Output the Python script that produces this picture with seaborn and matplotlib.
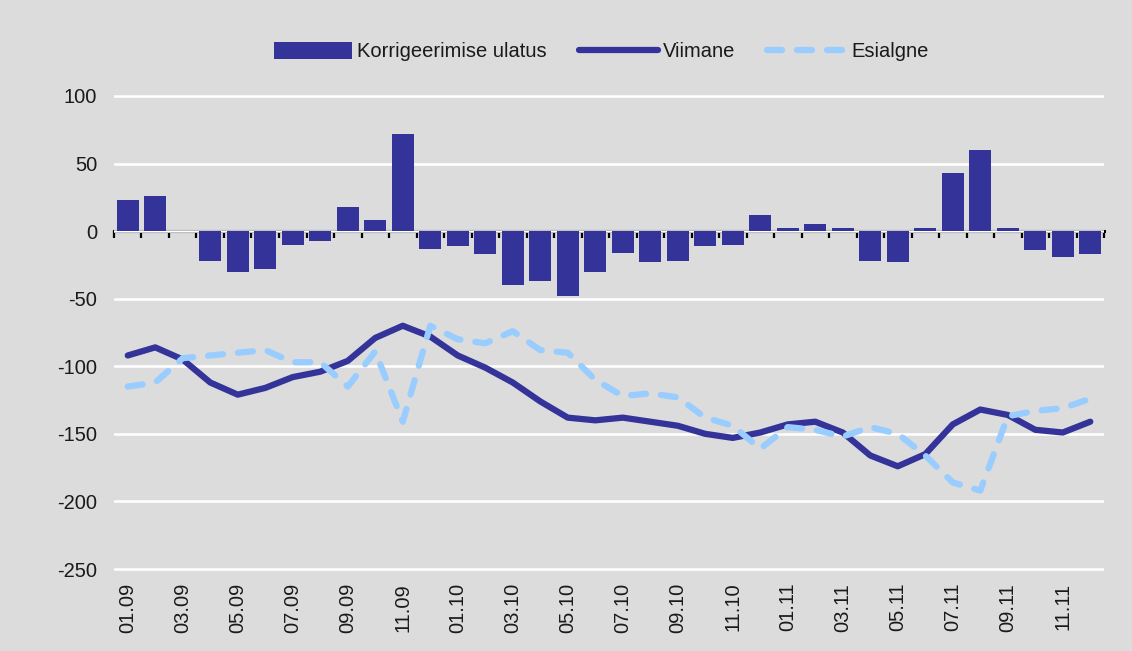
# korrigeerimise ulatus: viimane vs esialgne hinnang

import seaborn as sns
import matplotlib.pyplot as plt
import pandas as pd
import numpy as np

# kuud 01.09 ... 12.11
months = [f"{m:02d}.{y}" for y in ("09", "10", "11") for m in range(1, 13)]

# correction size (bars)
korr = [23, 26, 0, -22, -30, -28, -10, -7, 18, 8, 72, -13,
        -11, -17, -40, -37, -48, -30, -16, -23, -22, -11, -10, 12,
        2, 5, 2, -22, -23, 2, 43, 60, 2, -14, -19, -17]

# latest estimate (solid line)
viimane = [-92, -86, -95, -112, -121, -116, -108, -104, -96, -79, -70, -78,
           -92, -101, -112, -126, -138, -140, -138, -141, -144, -150, -153, -149,
           -143, -141, -149, -166, -174, -165, -143, -132, -136, -147, -149, -141]

# initial estimate (dashed line)
esialgne = [-115, -112, -94, -92, -90, -88, -97, -97, -115, -89, -141, -70,
            -80, -83, -74, -88, -90, -110, -122, -120, -123, -138, -144, -161,
            -145, -147, -152, -145, -150, -166, -186, -192, -137, -133, -131, -124]

df = pd.DataFrame({'x': np.arange(len(months)), 'kuu': months,
                   'korr': korr, 'viimane': viimane, 'esialgne': esialgne})

bg = '#dcdcdc'
dark = '#333399'
light = '#99ccff'

plt.rcParams['font.family'] = ['Liberation Sans', 'DejaVu Sans']
plt.rcParams['font.size'] = 14.5
plt.rcParams['axes.unicode_minus'] = False
plt.rcParams['text.color'] = '#1a1a1a'
plt.rcParams['xtick.color'] = '#1a1a1a'
plt.rcParams['ytick.color'] = '#1a1a1a'

fig = plt.figure(figsize=(11.32, 6.51), dpi=100)
fig.patch.set_facecolor(bg)
ax = fig.add_axes([0.1007, 0.1218, 0.8746, 0.7349])
ax.set_facecolor(bg)

# bars
sns.barplot(data=df, x='x', y='korr', color=dark, saturation=1, width=0.8,
            errorbar=None, ax=ax, label='Korrigeerimise ulatus', zorder=2)

# lines
sns.lineplot(data=df, x='x', y='viimane', color=dark, lw=4.5, ax=ax,
             label='Viimane', solid_capstyle='round', zorder=3)
sns.lineplot(data=df, x='x', y='esialgne', color=light, lw=4.5, ax=ax,
             label='Esialgne', linestyle=(0, (2.4, 2.4)),
             dash_capstyle='round', zorder=3)

# axes styling
ax.set_xlim(-0.5, len(months) - 0.5)
ax.set_ylim(-252, 102)
ax.set_yticks(range(-250, 101, 50))
ax.set_xticks(df['x'][::2])
ax.set_xticklabels(months[::2], rotation=90)
ax.set_xlabel('')
ax.set_ylabel('')
ax.tick_params(axis='x', length=0, pad=8)
ax.tick_params(axis='y', length=0, pad=12)
for s in ax.spines.values():
    s.set_visible(False)
ax.set_axisbelow(True)
ax.grid(axis='y', color='white', lw=1.8)
ax.grid(axis='x', visible=False)

# zero line with category tick marks
sec = ax.secondary_xaxis(0, transform=ax.transData)
sec.set_xticks(np.arange(-0.5, len(months), 1))
sec.tick_params(axis='x', direction='out', length=5, width=1.6,
                color='black', labelbottom=False)
sec.spines['bottom'].set_linewidth(2.2)
sec.spines['bottom'].set_color('black')

# legend: bars first, then lines
handles, labels = ax.get_legend_handles_labels()
order = [labels.index(l) for l in ['Korrigeerimise ulatus', 'Viimane', 'Esialgne']]
leg = ax.legend([handles[i] for i in order], [labels[i] for i in order],
                loc='center', bbox_to_anchor=(0.492, 1.087),
                ncol=3, frameon=False, handlelength=3.9, handleheight=0.9,
                handletextpad=0.25, columnspacing=1.6, fontsize=14.5)

plt.savefig('out.png', dpi=100, facecolor=bg)
